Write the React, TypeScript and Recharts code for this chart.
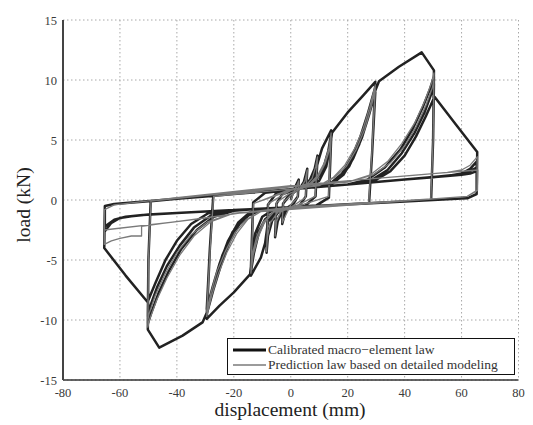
import React from 'react';
import { LineChart, Line, XAxis, YAxis, CartesianGrid } from 'recharts';

type Pt = [number, number];

const xTicks = [-80, -60, -40, -20, 0, 20, 40, 60, 80];
const yTicks = [-15, -10, -5, 0, 5, 10, 15];

// Calibrated macro-element law (black) — displacement (mm), load (kN)
const calSmall: Pt[] = [
  [0, 0], [1, 0.8], [2.8, 1.7], [2.5, 0.3], [1, -0.3], [-1, -0.6], [-2, -1.1], [-3, -2.0], [-2.7, -0.3], [-1, 0.3],
  [1, 0.6], [2, 1.0], [2.8, 1.6], [2.5, 0.3], [0, -0.5], [-2, -1.0], [-3, -1.9], [-2.7, -0.3], [0, 0.5],
  [3, 0.9], [4.6, 1.5], [5.8, 2.6], [5.3, 0.3], [3, -0.5], [0, -0.6], [-3, -0.9], [-4.6, -1.8], [-5.5, -3.1], [-5, -0.3], [-3, 0.5],
  [0, 0.7], [3, 0.9], [4.8, 1.5], [5.8, 2.5], [5.3, 0.3], [3, -0.5], [0, -0.6], [-3, -0.9], [-4.8, -1.8], [-5.5, -3.0], [-5, -0.3], [-3, 0.5],
  [0, 0.8], [4, 1.1], [6.8, 1.7], [8.4, 2.6], [9.4, 3.7], [8.7, 0.3], [5, -0.5], [0, -0.6], [-4, -0.9], [-6.5, -1.7], [-8, -3.0], [-8.5, -4.4], [-8, -0.4], [-5, 0.6],
  [0, 0.8], [4, 1.1], [7, 1.7], [8.5, 2.5], [9.4, 3.5], [8.7, 0.3], [5, -0.5], [0, -0.6], [-4, -0.9], [-6.6, -1.7], [-8, -2.9], [-8.5, -4.2], [-8, -0.4], [-5, 0.6],
];
const cal14: Pt[] = [
  [0, 0.85], [5, 1.1], [8, 1.8], [9.6, 3.2], [11, 4.3], [14.2, 5.8], [13.4, 0.2], [9, -0.45], [0, -0.6], [-5, -0.9], [-8, -1.8], [-9, -3.6], [-10.5, -4.8], [-14, -6.3], [-13.2, -0.2], [-9, 0.6],
  [0, 0.85], [5, 1.1], [9, 1.7], [11.5, 2.7], [13.2, 4.1], [14.2, 5.5], [13.4, 0.2], [9, -0.45], [0, -0.6], [-5, -0.9], [-9, -1.6], [-11.3, -2.8], [-13, -4.5], [-14, -6.0], [-13.2, -0.2], [-9, 0.6],
  [0, 0.85], [5, 1.1], [9, 1.7], [11.6, 2.6], [13.3, 3.9], [14.2, 5.2], [13.4, 0.2], [9, -0.45], [0, -0.6], [-5, -0.9], [-9, -1.6], [-11.4, -2.7], [-13.1, -4.3], [-14, -5.7], [-13.2, -0.2], [-9, 0.6],
];
const cal30: Pt[] = [
  [0, 0.9], [6, 1.1], [10, 1.6], [12.5, 2.8], [13.8, 4.5], [14.5, 5.6], [20, 7.3], [25, 8.6], [29.7, 9.85], [28.6, 4], [27.5, -0.3], [20, -0.36], [10, -0.48], [0, -0.6],
  [-6, -0.8], [-10, -1.4], [-12.5, -2.8], [-13.6, -4.8], [-14.3, -6.2], [-20, -7.7], [-25, -8.8], [-29.5, -9.9], [-28.4, -4], [-27.2, 0.36], [-20, 0.5], [-10, 0.7], [0, 0.9],
  [10, 1.1], [14, 1.4], [18, 2.2], [21.5, 3.6], [24.5, 5.3], [27.2, 7.3], [29.7, 9.4], [28.6, 4], [27.5, -0.3], [20, -0.36], [10, -0.48], [0, -0.6],
  [-10, -0.75], [-14, -1.1], [-18, -2.0], [-21.5, -3.5], [-24.5, -5.4], [-27.2, -7.5], [-29.5, -9.5], [-28.4, -4], [-27.2, 0.36], [-20, 0.5], [-10, 0.7], [0, 0.9],
  [10, 1.1], [14.5, 1.35], [18.5, 2.1], [22, 3.5], [25, 5.2], [27.5, 7.1], [29.7, 9.0], [28.6, 4], [27.5, -0.3], [20, -0.36], [10, -0.48], [0, -0.6],
  [-10, -0.75], [-14.5, -1.05], [-18.5, -1.9], [-22, -3.4], [-25, -5.3], [-27.5, -7.3], [-29.5, -9.1], [-28.4, -4], [-27.2, 0.36],
];
const cal50: Pt[] = [
  [-20, 0.5], [0, 0.9], [10, 1.1], [16, 1.6], [20.5, 2.8], [24, 4.6], [27, 6.8], [29.5, 9.0], [31, 9.9], [38, 11.1], [46, 12.3], [50.3, 10.8], [50, 5], [49.3, 0.0],
  [40, -0.12], [30, -0.24], [15, -0.42], [0, -0.6], [-10, -0.8], [-16, -1.4], [-20.5, -2.7], [-24, -4.6], [-27, -7.0], [-29.3, -9.3], [-31, -10.2], [-38, -11.3], [-46.2, -12.3], [-50.2, -10.8], [-50, -5], [-49.2, -0.1],
  [-40, 0.1], [-30, 0.3], [-15, 0.6], [0, 0.9], [10, 1.1], [20, 1.3], [27, 1.7], [33, 2.7], [38.5, 4.2], [43, 6.0], [46.5, 7.8], [49, 9.3], [50.3, 10.3], [50, 5], [49.3, 0.0],
  [40, -0.12], [30, -0.24], [15, -0.42], [0, -0.6], [-10, -0.72], [-20, -0.9], [-27, -1.4], [-33, -2.5], [-38.5, -4.1], [-43, -6.0], [-46.5, -7.8], [-49, -9.4], [-50.2, -10.3], [-50, -5], [-49.2, -0.1],
  [-40, 0.1], [-30, 0.3], [-15, 0.6], [0, 0.9], [10, 1.1], [20, 1.3], [28, 1.6], [34, 2.5], [39, 3.9], [43.5, 5.6], [47, 7.3], [49.3, 8.8], [50.3, 9.7], [50, 5], [49.3, 0.0],
  [40, -0.12], [30, -0.24], [15, -0.42], [0, -0.6], [-10, -0.72], [-20, -0.84], [-28, -1.3], [-34, -2.3], [-39, -3.8], [-43.5, -5.5], [-47, -7.3], [-49.3, -8.8], [-50.2, -9.7], [-50, -5], [-49.2, -0.1],
];
const cal65: Pt[] = [
  [-40, 0.1], [-30, 0.3], [-15, 0.6], [0, 0.9], [10, 1.1], [20, 1.3], [29, 1.55], [35, 2.4], [40, 3.7], [44, 5.3], [47.5, 7.0], [50.5, 8.6], [58, 6.3], [65.5, 4.0], [65.4, 2], [65.3, 0.5],
  [62, 0.14], [60, 0.12], [50, 0.0], [40, -0.12], [30, -0.24], [15, -0.42], [0, -0.6], [-10, -0.72], [-20, -0.84], [-29, -1.1], [-35, -2.0], [-40, -3.4], [-44, -5.0], [-47.5, -6.9], [-50.3, -8.5], [-58, -6.3], [-65.5, -4.0], [-65.4, -2], [-65.3, -0.5],
  [-62, -0.34], [-60, -0.3], [-50, -0.1], [-40, 0.1], [-20, 0.5], [0, 0.9], [20, 1.3], [40, 1.7], [50, 1.9], [56, 2.05], [60, 2.2], [63, 2.6], [65.3, 3.2], [65.3, 0.5],
  [62, 0.14], [60, 0.12], [40, -0.12], [20, -0.36], [0, -0.6], [-20, -0.84], [-40, -1.08], [-50, -1.2], [-56, -1.35], [-60, -1.5], [-63, -1.9], [-65.3, -2.6], [-65.3, -0.5],
  [-62, -0.34], [-60, -0.3], [-40, 0.1], [-20, 0.5], [0, 0.9], [20, 1.3], [40, 1.7], [52, 1.95], [58, 2.1], [62, 2.3], [65.3, 2.7], [65.3, 0.5],
  [62, 0.14], [60, 0.12], [40, -0.12], [20, -0.36], [0, -0.6], [-20, -0.84], [-40, -1.08], [-52, -1.25], [-58, -1.4], [-62, -1.65], [-65.3, -2.2], [-65.3, -0.5],
  [-62, -0.34], [-60, -0.3], [-40, 0.1], [-20, 0.5], [0, 0.9], [20, 1.3], [40, 1.7], [55, 2.0], [60, 2.1], [63, 2.2], [65.3, 2.4],
];

// Prediction law based on detailed modeling (gray)
const predSmall: Pt[] = [
  [0, 0], [2.8, 1.6], [2.4, 0.2], [0, -0.4], [-3, -1.9], [-2.6, -0.2], [0, 0.4], [3.5, 1.0], [5, 1.6], [5.8, 2.5], [5.2, 0.2], [0, -0.6],
  [-3.5, -1.0], [-5, -1.8], [-5.5, -3.0], [-5, -0.2], [0, 0.6], [4.5, 1.0], [7.5, 1.8], [8.8, 2.8], [9.4, 3.6], [8.6, 0.3], [0, -0.7],
  [-4.5, -1.0], [-7.2, -1.9], [-8.2, -3.1], [-8.5, -4.3], [-7.9, -0.3], [0, 0.8],
];
const pred14: Pt[] = [
  [6, 1.2], [9.3, 2.0], [11.8, 3.1], [13.4, 4.3], [14.2, 5.6], [13.3, 0.3], [0, -0.7], [-6, -1.0], [-9.3, -1.9], [-11.6, -3.2], [-13.2, -4.6], [-14, -6.1], [-13.1, -0.3], [0, 0.8],
  [6, 1.1], [9.6, 1.9], [12, 3.0], [13.5, 4.1], [14.2, 5.3], [13.3, 0.3], [0, -0.7], [-6, -1.0], [-9.6, -1.8], [-12, -3.1], [-13.4, -4.4], [-14, -5.8], [-13.1, -0.3],
];
const pred30: Pt[] = [
  [0, 0.9], [10, 1.2], [15, 1.9], [19, 2.9], [22.5, 4.3], [25.5, 6.0], [27.8, 7.8], [29.7, 9.6], [28.5, 4], [27.4, -0.2], [10, -0.5], [0, -0.7],
  [-10, -0.9], [-15, -1.6], [-19, -2.8], [-22.5, -4.4], [-25.5, -6.2], [-27.8, -8.0], [-29.5, -9.7], [-28.3, -4], [-27.1, 0.3], [0, 0.9],
  [10, 1.2], [15.5, 1.9], [19.5, 2.8], [23, 4.2], [26, 5.9], [28, 7.5], [29.7, 9.2], [28.5, 4], [27.4, -0.2], [0, -0.7],
  [-10, -0.9], [-15.5, -1.6], [-19.5, -2.7], [-23, -4.3], [-26, -6.0], [-28, -7.7], [-29.5, -9.3], [-28.3, -4], [-27.1, 0.3],
];
const pred50: Pt[] = [
  [0, 1.1], [20, 1.5], [28, 2.1], [34, 3.2], [39, 4.7], [43.5, 6.4], [47, 8.2], [49.5, 9.8], [50.3, 10.6], [50, 5], [49.2, 0.1], [20, -0.4], [0, -0.7],
  [-20, -1.1], [-28, -1.8], [-34, -3.0], [-39, -4.6], [-43.5, -6.5], [-47, -8.3], [-49.5, -9.9], [-50.2, -10.6], [-50, -5], [-49.1, -0.1], [0, 1.1],
  [20, 1.5], [29, 2.1], [35, 3.1], [40, 4.5], [44, 6.1], [47.5, 7.9], [49.8, 9.4], [50.3, 10.0], [50, 5], [49.2, 0.1], [0, -0.7],
  [-20, -1.1], [-29, -1.8], [-35, -2.9], [-40, -4.4], [-44, -6.1], [-47.5, -7.9], [-49.8, -9.5], [-50.2, -10.0], [-50, -5], [-49.1, -0.1],
];
const pred65: Pt[] = [
  [0, 1.2], [30, 1.8], [45, 2.1], [55, 2.3], [60, 2.5], [63, 2.9], [65.5, 3.6], [65.4, 0.8], [62, 0.3], [45, 0.0], [0, -0.6],
  [-18, -1.1], [-30, -1.5], [-45, -1.95], [-52.4, -2.2], [-52.4, -3.0], [-56, -3.0], [-60, -3.2], [-63, -3.4], [-65.5, -3.7], [-65.4, -0.8], [-62, -0.4],
  [-40, 0.2], [-4, 1.1], [30, 1.8], [50, 2.2], [65.7, 2.5], [65.6, 0.8], [62, 0.3], [40, -0.1], [-18, -1.1], [-40, -1.8], [-65.6, -2.5],
];

const toRows = (pts: Pt[]) => pts.map(([x, y]) => ({ x, y }));
const calibrated = toRows([...calSmall, ...cal14, ...cal30, ...cal50, ...cal65]);
const prediction = toRows([...predSmall, ...pred14, ...pred30, ...pred50, ...pred65]);

const SERIF = '"Liberation Serif", "Times New Roman", Times, serif';

const XTick = (props: any) => {
  const { x, y, payload } = props;
  return (
    <text x={x} y={y} dy={17} textAnchor="middle" style={{ fontSize: 12.5, fontFamily: SERIF, fill: '#3a3a3a' }}>
      {payload.value}
    </text>
  );
};

const YTick = (props: any) => {
  const { x, y, payload } = props;
  return (
    <text x={x} y={y} dx={-6} dy={4.5} textAnchor="end" style={{ fontSize: 12.5, fontFamily: SERIF, fill: '#3a3a3a' }}>
      {payload.value}
    </text>
  );
};

export default function App() {
  return (
    <div style={{ position: 'relative', width: 517, height: 417, fontFamily: SERIF }}>
      <LineChart width={517} height={417} margin={{ top: 12, right: 6.5, bottom: 20, left: 15 }} style={{ fontFamily: SERIF }}>
        <CartesianGrid stroke="#a8a8a8" strokeDasharray="1.5 2.5" strokeWidth={1} />
        <XAxis
          type="number"
          dataKey="x"
          domain={[-80, 80]}
          ticks={xTicks}
          interval={0}
          allowDataOverflow
          height={25}
          tickLine={false}
          tickSize={0}
          tickMargin={0}
          axisLine={{ stroke: '#333', strokeWidth: 1.6 }}
          tick={<XTick />}
        />
        <YAxis
          type="number"
          domain={[-15, 15]}
          ticks={yTicks}
          interval={0}
          allowDataOverflow
          width={40}
          tickLine={false}
          tickSize={0}
          tickMargin={0}
          axisLine={{ stroke: '#444', strokeWidth: 2 }}
          tick={<YTick />}
        />
        <Line
          data={calibrated}
          dataKey="y"
          type="linear"
          stroke="#222"
          strokeWidth={2.5}
          strokeLinejoin="round"
          dot={false}
          activeDot={false}
          isAnimationActive={false}
        />
        <Line
          data={prediction}
          dataKey="y"
          type="linear"
          stroke="#7a7a7a"
          strokeWidth={1.3}
          strokeLinejoin="round"
          dot={false}
          activeDot={false}
          isAnimationActive={false}
        />
      </LineChart>
      <div
        style={{
          position: 'absolute', left: 282, top: 402, transform: 'translate(-50%, -50%)',
          fontSize: 19.5, lineHeight: 1, whiteSpace: 'nowrap', color: '#222',
        }}
      >
        displacement (mm)
      </div>
      <div
        style={{
          position: 'absolute', left: 16, top: 197, transform: 'translate(-50%, -50%) rotate(-90deg)',
          fontSize: 19.5, lineHeight: 1, whiteSpace: 'nowrap', color: '#222',
        }}
      >
        load (kN)
      </div>
      <div
        style={{
          position: 'absolute', left: 219, top: 330, width: 288, height: 37, boxSizing: 'border-box',
          border: '1.5px solid #111', background: '#fff', fontSize: 13.5, color: '#333',
        }}
      >
        <div style={{ position: 'absolute', left: 5, top: 4, display: 'flex', alignItems: 'center', height: 14, whiteSpace: 'nowrap' }}>
          <svg width={33} height={6} style={{ marginRight: 2 }}><line x1={0} y1={3} x2={33} y2={3} stroke="#111" strokeWidth={3} /></svg>
          <span>Calibrated macro&#8722;element law</span>
        </div>
        <div style={{ position: 'absolute', left: 5, top: 19, display: 'flex', alignItems: 'center', height: 14, whiteSpace: 'nowrap' }}>
          <svg width={33} height={6} style={{ marginRight: 2 }}><line x1={0} y1={3} x2={33} y2={3} stroke="#7a7a7a" strokeWidth={1.3} /></svg>
          <span>Prediction law based on detailed modeling</span>
        </div>
      </div>
    </div>
  );
}
